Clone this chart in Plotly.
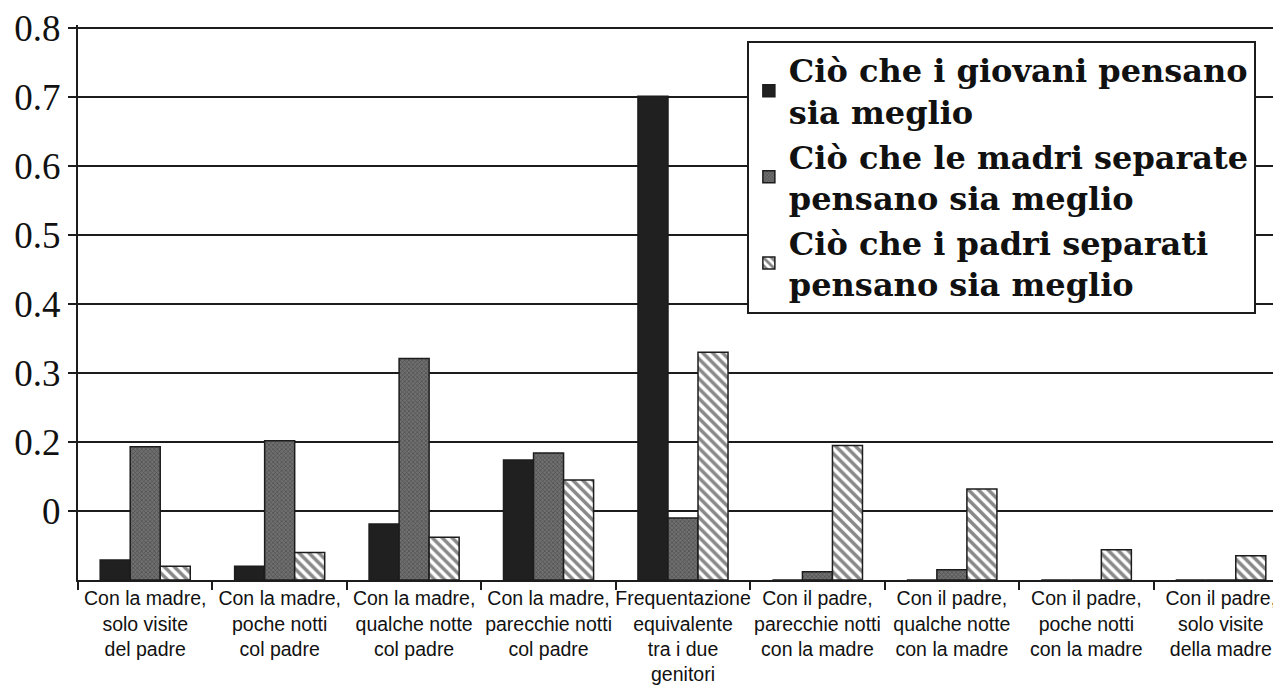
import plotly.graph_objects as go

categories = [
    "Con la madre,<br>solo visite<br>del padre",
    "Con la madre,<br>poche notti<br>col padre",
    "Con la madre,<br>qualche notte<br>col padre",
    "Con la madre,<br>parecchie notti<br>col padre",
    "Frequentazione<br>equivalente<br>tra i due<br>genitori",
    "Con il padre,<br>parecchie notti<br>con la madre",
    "Con il padre,<br>qualche notte<br>con la madre",
    "Con il padre,<br>poche notti<br>con la madre",
    "Con il padre,<br>solo visite<br>della madre",
]

series_names = [
    "Ciò che i giovani pensano<br>sia meglio",
    "Ciò che le madri separate<br>pensano sia meglio",
    "Ciò che i padri separati<br>pensano sia meglio",
]

giovani = [0.029, 0.020, 0.081, 0.174, 0.701, 0.0, 0.0, 0.0, 0.0]
madri = [0.193, 0.202, 0.321, 0.184, 0.090, 0.012, 0.015, 0.0, 0.0]
padri = [0.020, 0.040, 0.062, 0.145, 0.330, 0.195, 0.132, 0.044, 0.035]

# tick labels as printed on the original chart
y_tickvals = [0.1, 0.2, 0.3, 0.4, 0.5, 0.6, 0.7, 0.8]
y_ticktext = ["0", "0.2", "0.3", "0.4", "0.5", "0.6", "0.7", "0.8"]

INK = "#1c1c1c"

fig = go.Figure()
fig.add_trace(go.Bar(
    name=series_names[0], x=categories, y=giovani,
    marker=dict(color="#202020", line=dict(color=INK, width=1.5)),
))
fig.add_trace(go.Bar(
    name=series_names[1], x=categories, y=madri,
    marker=dict(color="#606060", line=dict(color=INK, width=1.5),
                pattern=dict(shape="x", fgcolor="#2a2a2a", bgcolor="#707070",
                             size=3, solidity=0.4)),
))
fig.add_trace(go.Bar(
    name=series_names[2], x=categories, y=padri,
    marker=dict(color="white", line=dict(color=INK, width=1.5),
                pattern=dict(shape="\\", fgcolor="#111111", bgcolor="white",
                             size=7, solidity=0.5)),
))

# the page body has an 8px margin, so the figure is 8px smaller than the window
fig.update_layout(
    width=1273, height=685,
    margin=dict(l=70, r=0, t=17, b=113, autoexpand=False),
    paper_bgcolor="white", plot_bgcolor="white",
    barmode="group", bargap=0.33, bargroupgap=0,
    showlegend=True,
    legend=dict(
        x=0.556, y=0.972, xanchor="left", yanchor="top",
        bgcolor="white", bordercolor=INK, borderwidth=2,
        font=dict(family="DejaVu Serif", size=32, color="#111111", weight="bold"),
        tracegroupgap=0, traceorder="normal",
    ),
    xaxis=dict(
        type="category", range=[-0.5, 8.448], automargin=False,
        showline=True, linecolor=INK, linewidth=2,
        ticks="outside", tickson="boundaries", ticklen=8, tickwidth=2, tickcolor=INK,
        tickangle=0, ticklabeloverflow="allow",
        tickfont=dict(family="Liberation Sans", size=19.5, color="#111111"),
        showgrid=False,
    ),
    yaxis=dict(
        range=[0, 0.8044], automargin=False,
        tickvals=y_tickvals, ticktext=y_ticktext,
        showline=True, linecolor=INK, linewidth=2,
        ticks="outside", ticklen=8, tickwidth=2, tickcolor=INK,
        ticklabeloverflow="allow",
        showgrid=True, gridcolor=INK, gridwidth=2,
        zeroline=False,
        tickfont=dict(family="Liberation Serif", size=37, color="#111111"),
    ),
)

fig.write_html("out.html")
